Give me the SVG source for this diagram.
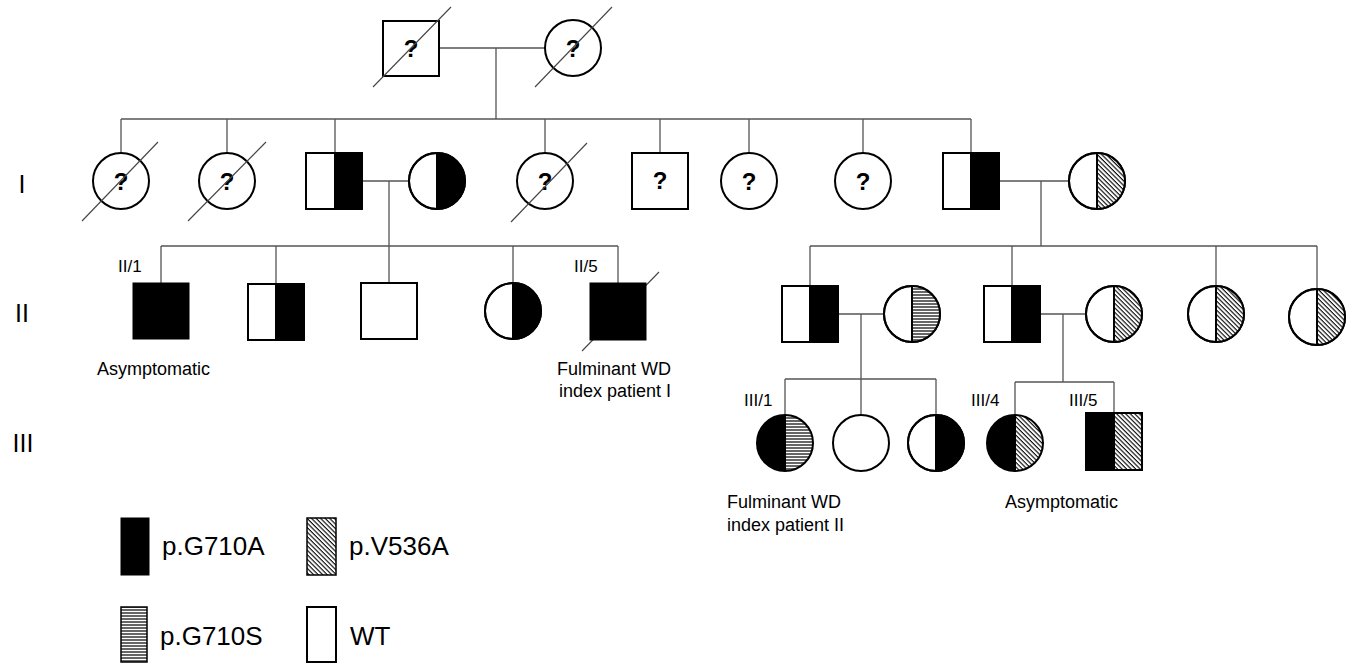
<svg xmlns="http://www.w3.org/2000/svg" width="1350" height="663" viewBox="0 0 1350 663">
<style>
.o{fill:#fff;stroke:#000;stroke-width:2}
.nf{fill:none;stroke:#000;stroke-width:2}
.b{fill:#000}
.d{fill:url(#diag)}
.h{fill:url(#hl)}
.mid{stroke:#000;stroke-width:2}
.c{fill:none;stroke:#555;stroke-width:1.3}
.sl{stroke:#444;stroke-width:1.1}
text{font-family:"Liberation Sans",Arial,sans-serif;fill:#000}
.q{font-size:24px;font-weight:bold;text-anchor:middle}
.g{font-size:25px;text-anchor:middle}
.lb{font-size:17px}
.tx{font-size:18px}
.lg{font-size:26px}
</style>
<defs>
<pattern id="diag" patternUnits="userSpaceOnUse" width="3.2" height="3.2" patternTransform="rotate(-45)">
<rect width="3.2" height="3.2" fill="#fff"/>
<line x1="1" y1="0" x2="1" y2="3.2" stroke="#000" stroke-width="1.1"/>
</pattern>
<pattern id="hl" patternUnits="userSpaceOnUse" width="6" height="3">
<rect width="6" height="3" fill="#fff"/>
<line x1="0" y1="1" x2="6" y2="1" stroke="#000" stroke-width="1.2"/>
</pattern>
</defs>

<g id="connectors">
<path class="c" d="M439,48 H545 M496,48 V119"/>
<path class="c" d="M121,119 H971 M121,119 V153 M227,119 V153 M335,119 V153 M545,119 V153 M660,119 V153 M749,119 V153 M863,119 V153 M971,119 V153"/>
<path class="c" d="M362,181 H409 M389,181 V246"/>
<path class="c" d="M161,246 H618 M161,246 V283 M276,246 V284 M389,246 V283 M513,246 V283 M618,246 V283"/>
<path class="c" d="M999,181 H1069 M1041,181 V246"/>
<path class="c" d="M810,246 H1317 M810,246 V286 M1012,246 V286 M1216,246 V286 M1317,246 V289"/>
<path class="c" d="M838,314 H884 M861,314 V379"/>
<path class="c" d="M785,379 H936 M785,379 V415 M861,379 V415 M936,379 V415"/>
<path class="c" d="M1040,314 H1086 M1063,314 V382"/>
<path class="c" d="M1015,382 H1114 M1015,382 V415 M1114,382 V413"/>
</g>

<g id="gen-labels">
<text class="g" x="22" y="193">I</text>
<text class="g" x="22" y="322">II</text>
<text class="g" x="23" y="452">III</text>
</g>

<!-- Top couple -->
<g id="P1">
<rect class="o" x="383" y="21" width="56" height="55"/>
<text class="q" x="411" y="57">?</text>
<line class="sl" x1="373" y1="87" x2="451" y2="7"/>
</g>
<g id="P2">
<circle class="o" cx="573" cy="48" r="28"/>
<text class="q" x="573" y="57">?</text>
<line class="sl" x1="535" y1="87" x2="612" y2="7"/>
</g>

<!-- Generation I -->
<g id="I1">
<circle class="o" cx="121" cy="181" r="28"/>
<text class="q" x="121" y="190">?</text>
<line class="sl" x1="82" y1="221" x2="158" y2="142"/>
</g>
<g id="I2">
<circle class="o" cx="227" cy="181" r="28"/>
<text class="q" x="227" y="190">?</text>
<line class="sl" x1="188" y1="221" x2="266" y2="142"/>
</g>
<g id="I3">
<rect class="b" x="335" y="153" width="27" height="56"/>
<rect class="nf" x="306" y="153" width="56" height="56"/>
<line class="mid" x1="335" y1="153" x2="335" y2="209"/>
</g>
<g id="I4">
<circle class="o" cx="437" cy="181" r="28"/>
<path class="b" d="M437,153 A28,28 0 0 1 437,209 Z"/>
<circle class="nf" cx="437" cy="181" r="28"/>
<line class="mid" x1="437" y1="153" x2="437" y2="209"/>
</g>
<g id="I5">
<circle class="o" cx="545" cy="181" r="28"/>
<text class="q" x="545" y="190">?</text>
<line class="sl" x1="511" y1="222" x2="587" y2="143"/>
</g>
<g id="I6">
<rect class="o" x="632" y="153" width="56" height="56"/>
<text class="q" x="660" y="189">?</text>
</g>
<g id="I7">
<circle class="o" cx="749" cy="181" r="28"/>
<text class="q" x="749" y="190">?</text>
</g>
<g id="I8">
<circle class="o" cx="863" cy="181" r="28"/>
<text class="q" x="863" y="190">?</text>
</g>
<g id="I9">
<rect class="b" x="971" y="153" width="28" height="56"/>
<rect class="nf" x="943" y="153" width="56" height="56"/>
<line class="mid" x1="971" y1="153" x2="971" y2="209"/>
</g>
<g id="I10">
<circle class="o" cx="1097" cy="181" r="28"/>
<path class="d" d="M1097,153 A28,28 0 0 1 1097,209 Z"/>
<circle class="nf" cx="1097" cy="181" r="28"/>
<line class="mid" x1="1097" y1="153" x2="1097" y2="209"/>
</g>

<!-- Generation II left -->
<g id="II1">
<rect class="b" x="133" y="283" width="56" height="56" stroke="#000" stroke-width="1"/>
<text class="lb" x="118" y="272">II/1</text>
<text class="tx" x="97" y="375">Asymptomatic</text>
</g>
<g id="II2">
<rect class="b" x="276" y="284" width="28" height="56"/>
<rect class="nf" x="248" y="284" width="56" height="56"/>
<line class="mid" x1="276" y1="284" x2="276" y2="340"/>
</g>
<g id="II3">
<rect class="o" x="361" y="283" width="56" height="56"/>
</g>
<g id="II4">
<circle class="o" cx="513" cy="311" r="28"/>
<path class="b" d="M513,283 A28,28 0 0 1 513,339 Z"/>
<circle class="nf" cx="513" cy="311" r="28"/>
<line class="mid" x1="513" y1="283" x2="513" y2="339"/>
</g>
<g id="II5">
<line class="sl" x1="582" y1="351" x2="659" y2="272"/>
<rect class="b" x="590" y="283" width="56" height="57" stroke="#000" stroke-width="1"/>
<text class="lb" x="574" y="272">II/5</text>
<text class="tx" x="614" y="375" text-anchor="middle">Fulminant WD</text>
<text class="tx" x="615" y="397" text-anchor="middle">index patient I</text>
</g>

<!-- Generation II right -->
<g id="II6">
<rect class="b" x="810" y="286" width="28" height="56"/>
<rect class="nf" x="782" y="286" width="56" height="56"/>
<line class="mid" x1="810" y1="286" x2="810" y2="342"/>
</g>
<g id="II7">
<circle class="o" cx="912" cy="314" r="28"/>
<path class="h" d="M912,286 A28,28 0 0 1 912,342 Z"/>
<circle class="nf" cx="912" cy="314" r="28"/>
<line class="mid" x1="912" y1="286" x2="912" y2="342"/>
</g>
<g id="II8">
<rect class="b" x="1012" y="286" width="28" height="56"/>
<rect class="nf" x="984" y="286" width="56" height="56"/>
<line class="mid" x1="1012" y1="286" x2="1012" y2="342"/>
</g>
<g id="II9">
<circle class="o" cx="1114" cy="314" r="28"/>
<path class="d" d="M1114,286 A28,28 0 0 1 1114,342 Z"/>
<circle class="nf" cx="1114" cy="314" r="28"/>
<line class="mid" x1="1114" y1="286" x2="1114" y2="342"/>
</g>
<g id="II10">
<circle class="o" cx="1216" cy="314" r="28"/>
<path class="d" d="M1216,286 A28,28 0 0 1 1216,342 Z"/>
<circle class="nf" cx="1216" cy="314" r="28"/>
<line class="mid" x1="1216" y1="286" x2="1216" y2="342"/>
</g>
<g id="II11">
<circle class="o" cx="1317" cy="317" r="28"/>
<path class="d" d="M1317,289 A28,28 0 0 1 1317,345 Z"/>
<circle class="nf" cx="1317" cy="317" r="28"/>
<line class="mid" x1="1317" y1="289" x2="1317" y2="345"/>
</g>

<!-- Generation III -->
<g id="III1">
<path class="b" d="M785,415 A28,28 0 0 0 785,471 Z"/>
<path class="h" d="M785,415 A28,28 0 0 1 785,471 Z"/>
<circle class="nf" cx="785" cy="443" r="28"/>
<line class="mid" x1="785" y1="415" x2="785" y2="471"/>
<text class="lb" x="744" y="406">III/1</text>
<text class="tx" x="727" y="508">Fulminant WD</text>
<text class="tx" x="727" y="531">index patient II</text>
</g>
<g id="III2">
<circle class="o" cx="861" cy="443" r="28"/>
</g>
<g id="III3">
<circle class="o" cx="936" cy="443" r="28"/>
<path class="b" d="M936,415 A28,28 0 0 1 936,471 Z"/>
<circle class="nf" cx="936" cy="443" r="28"/>
<line class="mid" x1="936" y1="415" x2="936" y2="471"/>
</g>
<g id="III4">
<path class="b" d="M1015,415 A28,28 0 0 0 1015,471 Z"/>
<path class="d" d="M1015,415 A28,28 0 0 1 1015,471 Z"/>
<circle class="nf" cx="1015" cy="443" r="28"/>
<line class="mid" x1="1015" y1="415" x2="1015" y2="471"/>
<text class="lb" x="971" y="406">III/4</text>
<text class="tx" x="1005" y="508">Asymptomatic</text>
</g>
<g id="III5">
<rect class="b" x="1086" y="413" width="28" height="57"/>
<rect class="d" x="1114" y="413" width="28" height="57"/>
<rect class="nf" x="1086" y="413" width="56" height="57"/>
<line class="mid" x1="1114" y1="413" x2="1114" y2="470"/>
<text class="lb" x="1069" y="406">III/5</text>
</g>

<!-- Legend -->
<g id="legend">
<rect class="b" x="121" y="518" width="28" height="57" stroke="#000" stroke-width="1"/>
<text class="lg" x="162" y="555">p.G710A</text>
<rect class="d" x="307" y="518" width="29" height="57" stroke="#000" stroke-width="1.5"/>
<text class="lg" x="349" y="555">p.V536A</text>
<rect class="h" x="121" y="607" width="26" height="55" stroke="#000" stroke-width="1.5"/>
<text class="lg" x="160" y="645">p.G710S</text>
<rect class="o" x="307" y="607" width="29" height="55" stroke-width="1.5"/>
<text class="lg" x="350" y="645">WT</text>
</g>
</svg>
